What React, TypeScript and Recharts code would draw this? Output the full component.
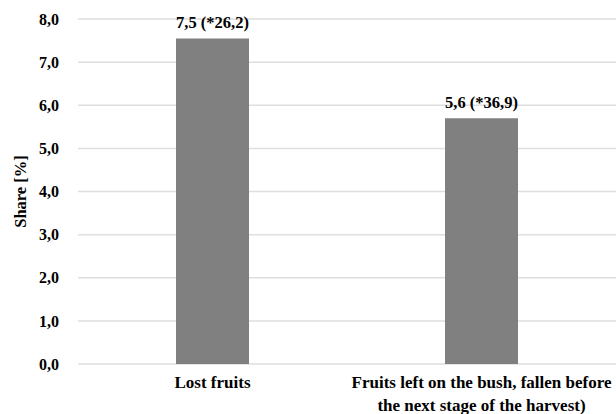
import { BarChart, Bar, XAxis, YAxis, CartesianGrid, LabelList, Label } from 'recharts';

const CATEGORIES = ['Lost fruits', 'Fruits left on the bush, fallen before the next stage of the harvest)'];
const CATEGORY_LINES = [
  ['Lost fruits'],
  ['Fruits left on the bush, fallen before', 'the next stage of the harvest)'],
];
const SHARE = [7.55, 5.7];
const VALUE_LABELS = ['7,5 (*26,2)', '5,6 (*36,9)'];
const Y_TICKS = [0, 1, 2, 3, 4, 5, 6, 7, 8];

const FONT = "'Liberation Serif', Tinos, 'DejaVu Serif', serif";

const data = CATEGORIES.map((name, i) => ({ name, share: SHARE[i], label: VALUE_LABELS[i] }));

function CategoryTick({ x, y, payload }: any) {
  const lines = CATEGORY_LINES[payload.index] ?? [payload.value];
  return (
    <text x={x} y={y} textAnchor="middle" style={{ fontFamily: FONT, fontWeight: 700, fontSize: 17 }} fill="#000">
      {lines.map((line, i) => (
        <tspan key={i} x={x} dy={i === 0 ? 24 : 23}>{line}</tspan>
      ))}
    </text>
  );
}

function YTitle({ viewBox }: any) {
  const cx = 20;
  const cy = viewBox.y + viewBox.height / 2;
  return (
    <text
      x={cx}
      y={cy}
      transform={`rotate(-90, ${cx}, ${cy})`}
      textAnchor="middle"
      dominantBaseline="central"
      style={{ fontFamily: FONT, fontWeight: 700, fontSize: 16.5 }}
      fill="#000"
    >
      Share [%]
    </text>
  );
}

export default function App() {
  return (
    <div style={{ position: 'absolute', left: 0, top: 0, background: '#fff', fontFamily: FONT }}>
      <BarChart width={616} height={414} data={data} margin={{ top: 19, right: 0, left: 0, bottom: 0 }}>
        <CartesianGrid vertical={false} stroke="#dedede" strokeWidth={1.5} />
        <XAxis
          dataKey="name"
          axisLine={false}
          tickLine={false}
          tickSize={0}
          tickMargin={0}
          height={50}
          interval={0}
          tick={<CategoryTick />}
        />
        <YAxis
          domain={[0, 8]}
          ticks={Y_TICKS}
          width={78}
          axisLine={false}
          tickLine={false}
          tickSize={0}
          tickMargin={19}
          tickFormatter={(v: number) => v.toFixed(1).replace('.', ',')}
          tick={{ fontFamily: FONT, fontWeight: 700, fontSize: 16, fill: '#000' }}
        >
          <Label content={<YTitle />} />
        </YAxis>
        <Bar dataKey="share" fill="#808080" barSize={73} isAnimationActive={false}>
          <LabelList
            dataKey="label"
            position="top"
            offset={10}
            fontFamily={FONT}
            fontWeight={700}
            fontSize={16.5}
            fill="#000"
          />
        </Bar>
      </BarChart>
    </div>
  );
}
